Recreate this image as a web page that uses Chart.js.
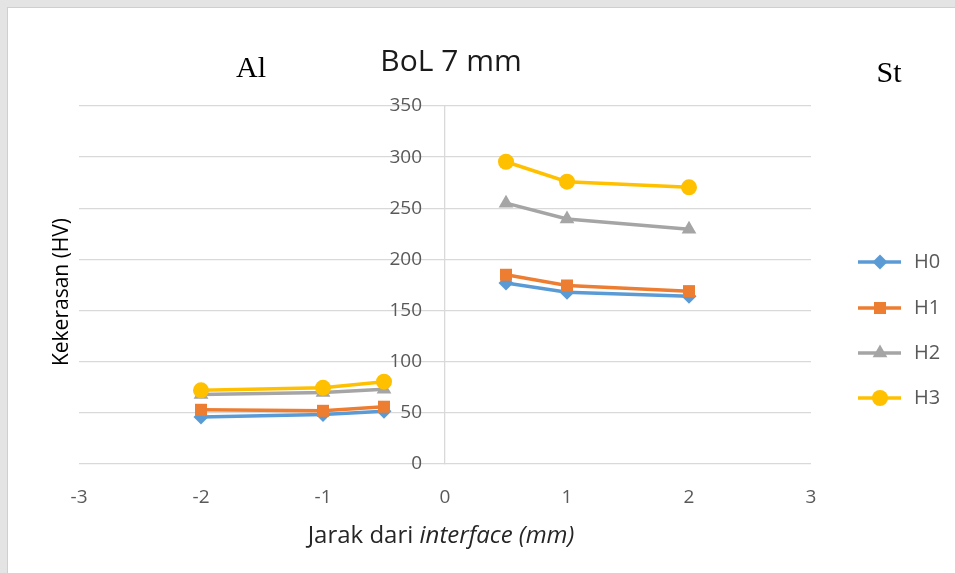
<!DOCTYPE html>
<html lang="id">
<head>
    <meta charset="UTF-8">
    <title>BoL 7 mm</title>
    <script src="https://cdn.jsdelivr.net/npm/chart.js"></script>
    <style>
        html, body {
            margin: 0;
            padding: 0;
            background-color: #e4e4e4;
            overflow: hidden;
        }

        .frame {
            position: absolute;
            left: 7px;
            top: 7px;
            width: 948px;
            height: 566px;
            background-color: #ffffff;
            border-left: 1px solid #cfcfcf;
            border-top: 1px solid #cfcfcf;
        }

        #hardnessChart {
            position: absolute;
            left: 0;
            top: 0;
        }
    </style>
</head>
<body>
    <div class="frame"></div>
    <canvas id="hardnessChart" width="955" height="573"></canvas>

    <script>
        // Jarak dari interface (mm): sisi Al negatif, sisi St positif
        var xAl = [-2, -1, -0.5];
        var xSt = [0.5, 1, 2];

        // Kekerasan (HV)
        var seriesNames = ['H0', 'H1', 'H2', 'H3'];
        var h0Al = [46, 48.5, 51.5];
        var h0St = [177, 168, 164];
        var h1Al = [53, 52, 56];
        var h1St = [185, 174.5, 169];
        var h2Al = [68, 70, 73];
        var h2St = [255, 239.5, 229.5];
        var h3Al = [72, 74.5, 80.5];
        var h3St = [295.5, 276, 270.5];

        var xTicks = [-3, -2, -1, 0, 1, 2, 3];
        var yTicks = [0, 50, 100, 150, 200, 250, 300, 350];

        var colors = ['#5b9bd5', '#ed7d31', '#a5a5a5', '#ffc000'];
        var pointStyles = ['rectRot', 'rect', 'triangle', 'circle'];
        var pointSizes = [7.5, 8.5, 8.5, 8];

        var tickFont = '"Open Sans", sans-serif';

        // build the points, with a null gap so Al and St are not joined
        function buildPoints(alVals, stVals) {
            var pts = [];
            for (var i = 0; i < xAl.length; i++) pts.push({ x: xAl[i], y: alVals[i] });
            pts.push({ x: 0, y: null });
            for (var j = 0; j < xSt.length; j++) pts.push({ x: xSt[j], y: stVals[j] });
            return pts;
        }

        var values = [[h0Al, h0St], [h1Al, h1St], [h2Al, h2St], [h3Al, h3St]];

        var datasets = seriesNames.map(function(name, i) {
            return {
                label: name,
                data: buildPoints(values[i][0], values[i][1]),
                showLine: true,
                spanGaps: false,
                borderColor: colors[i],
                backgroundColor: colors[i],
                borderWidth: 3.5,
                pointStyle: pointStyles[i],
                pointRadius: pointSizes[i],
                pointBorderWidth: 0,
                pointBackgroundColor: colors[i],
                order: seriesNames.length - i
            };
        });

        // texts drawn on top: title, side labels, axis titles, y labels, legend
        var overlayPlugin = {
            id: 'overlay',
            afterDraw: function(chart) {
                var ctx = chart.ctx;
                var xs = chart.scales.x;
                var ys = chart.scales.y;
                var x0 = xs.getPixelForValue(0);

                ctx.save();

                // y tick labels left of the centre axis
                ctx.font = '19px ' + tickFont;
                ctx.fillStyle = '#595959';
                ctx.textAlign = 'right';
                ctx.textBaseline = 'middle';
                yTicks.forEach(function(v) {
                    ctx.fillText(String(v), x0 - 23, ys.getPixelForValue(v));
                });

                // title
                ctx.font = '30px ' + tickFont;
                ctx.fillStyle = '#1a1a1a';
                ctx.textAlign = 'center';
                ctx.textBaseline = 'alphabetic';
                ctx.fillText('BoL 7 mm', 451, 71);

                // Al / St
                ctx.font = '30px "Liberation Serif", serif';
                ctx.fillStyle = '#000000';
                ctx.fillText('Al', 251, 77);
                ctx.fillText('St', 889, 82);

                // y axis title
                ctx.save();
                ctx.translate(68, 292);
                ctx.rotate(-Math.PI / 2);
                ctx.font = '21px ' + tickFont;
                ctx.fillStyle = '#000000';
                ctx.textAlign = 'center';
                ctx.textBaseline = 'alphabetic';
                ctx.fillText('Kekerasan (HV)', 0, 0);
                ctx.restore();

                // x axis title, "interface (mm)" in italic
                var part1 = 'Jarak dari ';
                var part2 = 'interface (mm)';
                ctx.font = '24px ' + tickFont;
                var w1 = ctx.measureText(part1).width;
                ctx.font = 'italic 24px ' + tickFont;
                var w2 = ctx.measureText(part2).width;
                var startX = 441 - (w1 + w2) / 2;
                ctx.textAlign = 'left';
                ctx.fillStyle = '#262626';
                ctx.font = '24px ' + tickFont;
                ctx.fillText(part1, startX, 543);
                ctx.font = 'italic 24px ' + tickFont;
                ctx.fillText(part2, startX + w1, 543);

                // legend
                var legendY = [262, 308, 353, 398];
                chart.data.datasets.forEach(function(ds, i) {
                    var y = legendY[i];
                    ctx.strokeStyle = ds.borderColor;
                    ctx.lineWidth = 3.5;
                    ctx.beginPath();
                    ctx.moveTo(858, y);
                    ctx.lineTo(901, y);
                    ctx.stroke();
                    ctx.fillStyle = ds.borderColor;
                    Chart.helpers.drawPoint(ctx, {
                        pointStyle: ds.pointStyle,
                        radius: ds.pointRadius,
                        rotation: 0,
                        borderWidth: 0
                    }, 880, y);
                    ctx.font = '20px ' + tickFont;
                    ctx.fillStyle = '#595959';
                    ctx.textAlign = 'left';
                    ctx.textBaseline = 'middle';
                    ctx.fillText(ds.label, 914, y);
                });

                ctx.restore();
            }
        };

        var config = {
            type: 'scatter',
            data: { datasets: datasets },
            options: {
                responsive: false,
                animation: false,
                layout: {
                    padding: { left: 79, right: 144, top: 106, bottom: 49 }
                },
                scales: {
                    x: {
                        type: 'linear',
                        min: -3,
                        max: 3,
                        afterFit: function(scale) { scale.height = 60; },
                        afterBuildTicks: function(scale) {
                            scale.ticks = xTicks.map(function(v) { return { value: v }; });
                        },
                        grid: { display: false, drawTicks: false },
                        border: { display: false },
                        ticks: {
                            color: '#595959',
                            padding: 22,
                            maxRotation: 0,
                            font: { family: '"Open Sans", sans-serif', size: 19 }
                        }
                    },
                    y: {
                        type: 'linear',
                        min: 0,
                        max: 350,
                        position: { x: 0 },
                        afterBuildTicks: function(scale) {
                            scale.ticks = yTicks.map(function(v) { return { value: v }; });
                        },
                        grid: { color: '#d9d9d9', lineWidth: 1.3, drawTicks: false },
                        border: { display: true, color: '#d9d9d9', width: 1.3 },
                        ticks: { display: false }
                    }
                },
                plugins: {
                    legend: { display: false },
                    title: { display: false },
                    tooltip: { enabled: false }
                }
            },
            plugins: [overlayPlugin]
        };

        var ctx = document.getElementById('hardnessChart').getContext('2d');
        window.myChart = new Chart(ctx, config);
    </script>
</body>
</html>
